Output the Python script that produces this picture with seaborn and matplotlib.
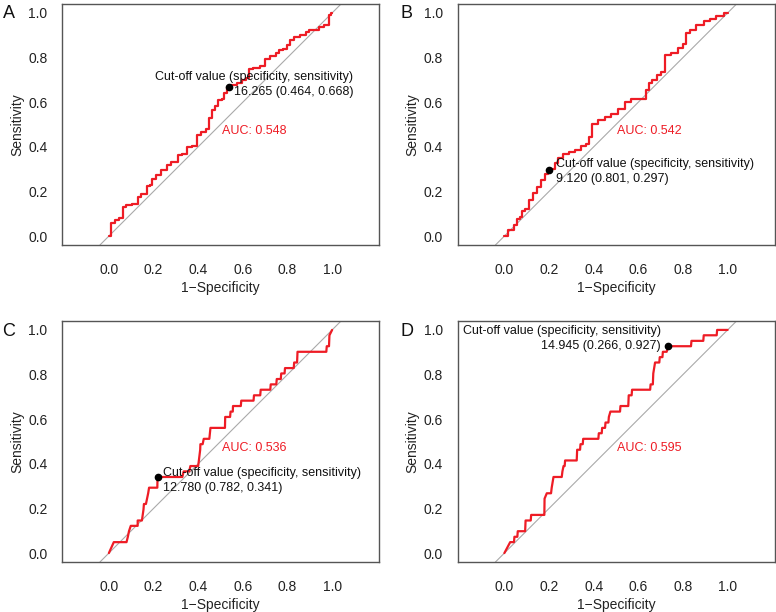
import numpy as np
import pandas as pd
import matplotlib
matplotlib.use("Agg")
import matplotlib.pyplot as plt
import seaborn as sns

# ROC points (1 - specificity, sensitivity)
fpr_a = [0, 0.019, 0.037, 0.057, 0.067, 0.087, 0.124, 0.139, 0.146, 0.169, 0.176, 0.191, 0.199,
         0.221, 0.244, 0.273, 0.281, 0.303, 0.318, 0.341, 0.356, 0.386, 0.4, 0.423, 0.445, 0.453,
         0.468, 0.483, 0.498, 0.513, 0.52, 0.536, 0.558, 0.587, 0.602, 0.625, 0.632, 0.662, 0.692,
         0.707, 0.737, 0.759, 0.767, 0.789, 0.804, 0.819, 0.842, 0.871, 0.894, 0.901, 0.939, 0.946,
         0.984, 0.988, 1.0]
tpr_a = [0, 0.06, 0.072, 0.079, 0.131, 0.14, 0.143, 0.176, 0.19, 0.19, 0.224, 0.231, 0.255,
         0.273, 0.296, 0.319, 0.331, 0.334, 0.363, 0.367, 0.4, 0.403, 0.454, 0.466, 0.482, 0.527,
         0.564, 0.582, 0.609, 0.616, 0.639, 0.668, 0.676, 0.684, 0.701, 0.71, 0.748, 0.752, 0.764,
         0.794, 0.806, 0.821, 0.833, 0.84, 0.857, 0.878, 0.89, 0.903, 0.913, 0.922, 0.922, 0.937,
         0.945, 0.99, 1.0]

fpr_b = [0, 0.031, 0.054, 0.061, 0.076, 0.084, 0.103, 0.118, 0.136, 0.158, 0.173, 0.193, 0.199,
         0.218, 0.233, 0.248, 0.278, 0.3, 0.337, 0.352, 0.375, 0.382, 0.404, 0.434, 0.464, 0.494,
         0.524, 0.554, 0.584, 0.628, 0.643, 0.651, 0.673, 0.696, 0.71, 0.733, 0.763, 0.793, 0.807,
         0.819, 0.845, 0.875, 0.912, 0.934, 0.964, 1.0]
tpr_b = [0, 0.025, 0.048, 0.075, 0.085, 0.112, 0.12, 0.16, 0.193, 0.22, 0.253, 0.28, 0.297,
         0.302, 0.327, 0.351, 0.366, 0.377, 0.384, 0.404, 0.414, 0.444, 0.504, 0.519, 0.534, 0.549,
         0.568, 0.601, 0.613, 0.616, 0.653, 0.688, 0.701, 0.722, 0.734, 0.81, 0.821, 0.843, 0.862,
         0.91, 0.925, 0.945, 0.964, 0.972, 0.987, 1.0]

fpr_c = [0, 0.022, 0.079, 0.085, 0.09, 0.098, 0.129, 0.129, 0.148, 0.155, 0.157, 0.166, 0.176,
         0.18, 0.217, 0.218, 0.329, 0.335, 0.36, 0.365, 0.40, 0.409, 0.41, 0.42, 0.425, 0.45,
         0.455, 0.52, 0.521, 0.543, 0.545, 0.555, 0.556, 0.591, 0.593, 0.648, 0.65, 0.678, 0.68,
         0.723, 0.725, 0.75, 0.752, 0.77, 0.772, 0.787, 0.789, 0.828, 0.83, 0.843, 0.845, 0.974,
         0.976, 0.986, 0.988, 1.0]
tpr_c = [0, 0.049, 0.049, 0.073, 0.098, 0.122, 0.122, 0.146, 0.146, 0.195, 0.22, 0.22, 0.268,
         0.293, 0.293, 0.341, 0.341, 0.366, 0.366, 0.39, 0.39, 0.463, 0.488, 0.488, 0.512, 0.512,
         0.561, 0.561, 0.61, 0.61, 0.634, 0.634, 0.659, 0.659, 0.683, 0.683, 0.707, 0.707, 0.732,
         0.732, 0.756, 0.756, 0.78, 0.78, 0.805, 0.805, 0.829, 0.829, 0.854, 0.854, 0.902, 0.902,
         0.927, 0.927, 0.976, 1.0]

fpr_d = [0, 0.026, 0.043, 0.045, 0.058, 0.06, 0.093, 0.095, 0.118, 0.12, 0.179, 0.18, 0.19,
         0.209, 0.212, 0.22, 0.257, 0.26, 0.265, 0.27, 0.272, 0.324, 0.326, 0.339, 0.341, 0.351,
         0.353, 0.421, 0.423, 0.436, 0.438, 0.451, 0.453, 0.466, 0.468, 0.475, 0.518, 0.52, 0.555,
         0.557, 0.57, 0.572, 0.653, 0.655, 0.665, 0.667, 0.675, 0.694, 0.696, 0.708, 0.71, 0.727,
         0.734, 0.836, 0.838, 0.891, 0.893, 0.951, 0.953, 1.0]
tpr_d = [0, 0.049, 0.049, 0.073, 0.073, 0.098, 0.098, 0.146, 0.146, 0.171, 0.171, 0.244, 0.268,
         0.268, 0.293, 0.341, 0.341, 0.366, 0.39, 0.39, 0.415, 0.415, 0.463, 0.463, 0.488, 0.488,
         0.512, 0.512, 0.537, 0.537, 0.561, 0.561, 0.585, 0.585, 0.61, 0.634, 0.634, 0.659, 0.659,
         0.707, 0.707, 0.732, 0.732, 0.756, 0.756, 0.805, 0.854, 0.854, 0.878, 0.878, 0.902, 0.902,
         0.927, 0.927, 0.951, 0.951, 0.976, 0.976, 1.0, 1.0]

panels = ["A", "B", "C", "D"]
aucs = [0.548, 0.542, 0.536, 0.595]
cut_values = [16.265, 9.120, 12.780, 14.945]
cut_spec = [0.464, 0.801, 0.782, 0.266]
cut_sens = [0.668, 0.297, 0.341, 0.927]
curves = [(fpr_a, tpr_a), (fpr_b, tpr_b), (fpr_c, tpr_c), (fpr_d, tpr_d)]
# A and B have many small steps, C and D are already listed corner by corner
drawstyles = ["steps-mid", "steps-mid", "default", "default"]

# where the cut-off text sits (x, y, alignment)
text_pos = [(1.094, 0.68, "right"), (0.23, 0.291, "left"),
            (0.244, 0.327, "left"), (0.70, 0.96, "right")]

sns.set_style("white")
plt.rcParams["font.family"] = ["Liberation Sans", "DejaVu Sans"]
edge = "#555555"

fig = plt.figure(figsize=(7.76, 6.12), dpi=100)
W, H = 776, 612
boxes = [(62, 4), (457.5, 4), (62, 321), (457.5, 321)]
bw, bh = 317, 241
letter_pos = [(9, 14), (407, 14), (9, 331), (407, 331)]

for i, name in enumerate(panels):
    left, top = boxes[i]
    ax = fig.add_axes([left / W, 1 - (top + bh) / H, bw / W, bh / H])
    fpr, tpr = curves[i]
    df = pd.DataFrame({"fpr": fpr, "tpr": tpr})

    ax.axline((0, 0), (1, 1), color="#aaaaaa", lw=0.8, zorder=1)
    sns.lineplot(data=df, x="fpr", y="tpr", sort=False, estimator=None,
                 color="#ee1c25", lw=1.6, ax=ax, zorder=2, drawstyle=drawstyles[i])
    ax.plot(1 - cut_spec[i], cut_sens[i], "o", color="black", ms=4.5, zorder=3)

    tx, ty, ha = text_pos[i]
    label = "Cut-off value (specificity, sensitivity)\n%.3f (%.3f, %.3f)" % (
        cut_values[i], cut_spec[i], cut_sens[i])
    ax.text(tx, ty, label, ha=ha, va="center", multialignment=ha, fontsize=9,
            color="#111111", linespacing=1.35, zorder=4)
    ax.text(0.65, 0.47, "AUC: %.3f" % aucs[i], ha="center", va="center",
            fontsize=9, color="#ee1c25")

    ax.set_xlim(-0.21, 1.21)
    ax.set_ylim(-0.04, 1.04)
    ticks = np.arange(0, 1.01, 0.2)
    ax.set_xticks(ticks)
    ax.set_yticks(ticks)
    ax.set_xticklabels(["%.1f" % t for t in ticks])
    ax.set_yticklabels(["%.1f" % t for t in ticks])
    ax.tick_params(axis="both", direction="out", length=6, width=0.9, color=edge,
                   labelsize=10, labelcolor="#222222")
    ax.tick_params(axis="x", pad=7)
    ax.tick_params(axis="y", pad=4.5)
    ax.set_xlabel("1\u2212Specificity", fontsize=10, color="#222222", labelpad=3)
    ax.set_ylabel("Sensitivity", fontsize=10, color="#222222", labelpad=3)
    for sp in ax.spines.values():
        sp.set_visible(True)
        sp.set_color(edge)
        sp.set_linewidth(1.0)

    lx, ly = letter_pos[i]
    fig.text(lx / W, 1 - ly / H, name, fontsize=13, ha="center", va="center",
             color="#111111")

fig.savefig("out.png", dpi=100)
